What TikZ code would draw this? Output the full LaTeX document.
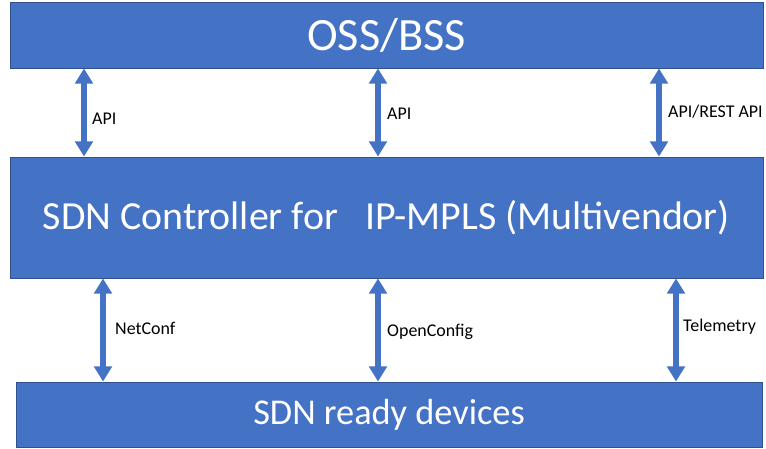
\documentclass[tikz,border=0pt]{standalone}
\usepackage{fontspec}
\setmainfont{Carlito}
\usetikzlibrary{arrows.meta,positioning}
\definecolor{office}{HTML}{4472C4}
\definecolor{rim}{HTML}{2F528F}
\tikzset{layer/.style={draw=rim,fill=office,line width=.8pt,inner sep=0pt,text=white,minimum width=22.59cm},
  link/.style={office,line width=4.3pt,{Triangle[width=15pt,length=13pt]}-{Triangle[width=15pt,length=13pt]}},
  lbl/.style={anchor=base west,inner sep=0pt,font=\fontsize{15.3}{18}\selectfont}}

\begin{document}
\begin{tikzpicture}[x=.03cm,y=.03cm]
\useasboundingbox (0,0) rectangle (766,448);
% the three layers
\node[layer,minimum height=1.98cm,font=\fontsize{39.5}{44}\selectfont] (oss) at (386.5,413) {OSS/BSS};
\node[layer,minimum height=3.63cm,font=\fontsize{34}{38}\selectfont] (ctrl) at (386.5,230.5) {SDN Controller for\ \ \ IP-MPLS (Multivendor)};
\node[layer,minimum width=22.38cm,minimum height=1.95cm,font=\fontsize{31}{34}\selectfont] (dev) at (389,33.5) {SDN ready devices};
% northbound
\draw[link] (oss.south -| 84,0) -- (ctrl.north -| 84,0);
\draw[link] (oss.south -| 378,0) -- (ctrl.north -| 378,0);
\draw[link] (oss.south -| 659,0) -- (ctrl.north -| 659,0);
\node[lbl] (nb1) at (92,323.7) {API};
\node[lbl] (nb2) at (387,328) {API};
\node[lbl] (nb3) at (668,330) {API/REST API};
% southbound
\draw[link] (ctrl.south -| 103,0) -- (dev.north -| 103,0);
\draw[link] (ctrl.south -| 378,0) -- (dev.north -| 378,0);
\draw[link] (ctrl.south -| 676,0) -- (dev.north -| 676,0);
\node[lbl] (sb1) at (115,114) {NetConf};
\node[lbl] (sb2) at (387,112) {OpenConfig};
\node[lbl] (sb3) at (683,116) {Telemetry};
\end{tikzpicture}
\end{document}
